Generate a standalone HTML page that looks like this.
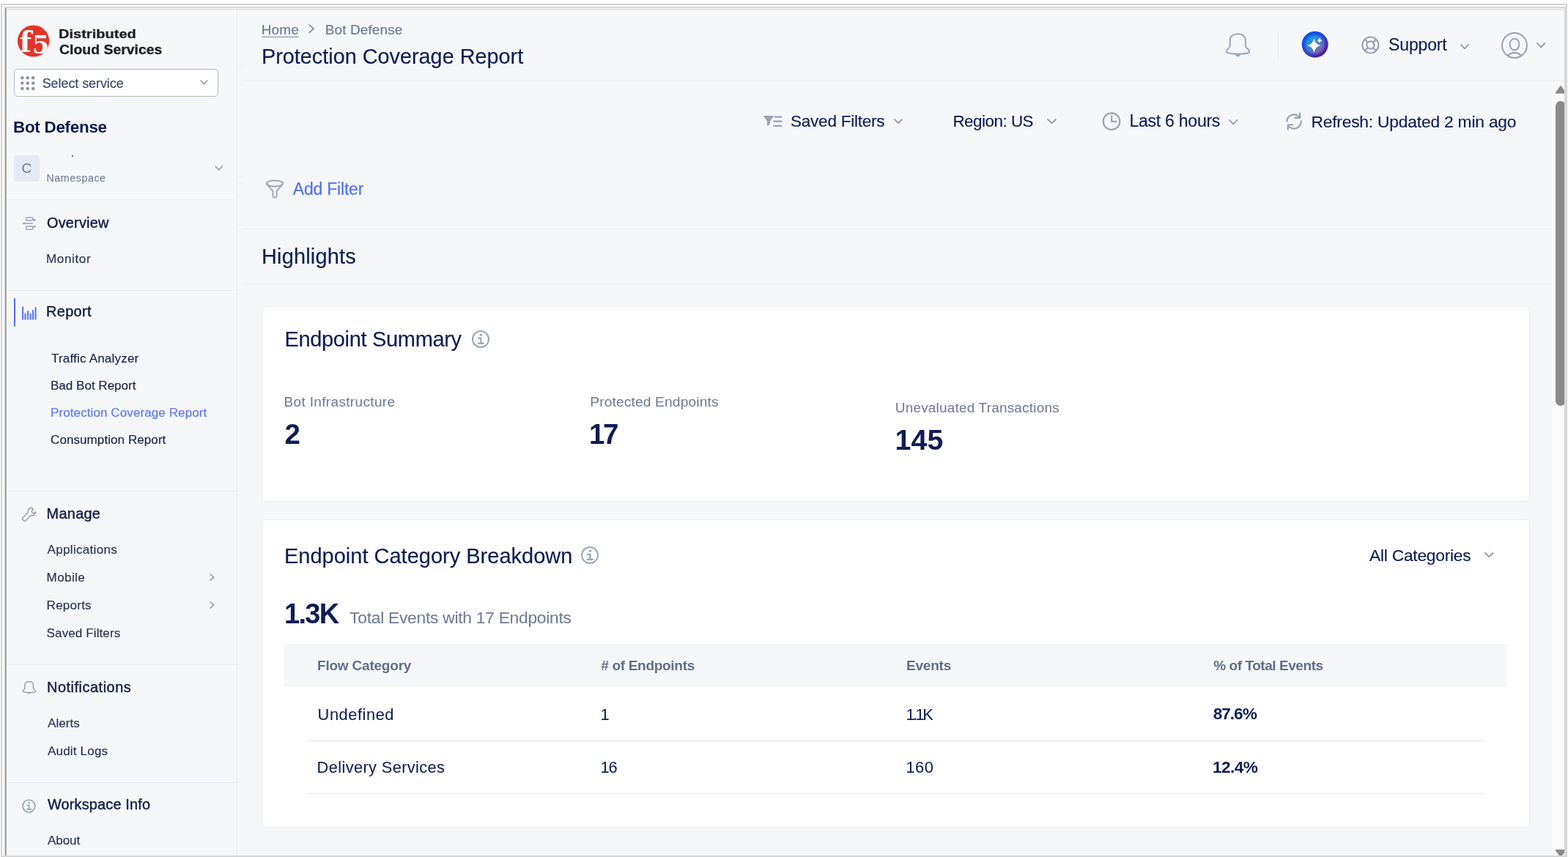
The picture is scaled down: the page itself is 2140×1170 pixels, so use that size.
<!DOCTYPE html>
<html lang="en"><head><meta charset="utf-8"><title>Protection Coverage Report</title>
<style>
html,body{margin:0;padding:0;}
body{width:2140px;height:1170px;overflow:hidden;position:relative;background:#fff;font-family:"Liberation Sans",Arial,sans-serif;}
.a{position:absolute;}
.t{position:absolute;white-space:nowrap;line-height:1;}
svg.a{overflow:visible;}
</style></head><body>
<div class="a" style="left:1px;top:5px;width:2138px;height:1165px;box-sizing:border-box;border:2px solid #d5d5d5;border-bottom:none"></div>
<div class="a" style="left:1px;top:1168px;width:2138px;height:2px;background:#d6d6d6"></div>
<div class="a" style="left:5px;top:9px;width:2132px;height:1159px;box-sizing:border-box;border-left:2px solid #e6e6e6;border-top:2px solid #d7d7d7;border-right:2px solid #d7d7d7"></div>
<div class="a" style="left:7px;top:11px;width:2128px;height:1157px;background:#f6f7f9"></div>
<div class="a" style="left:7px;top:11px;width:2128px;height:1px;background:#f2f2f2"></div>
<div class="a" style="left:7px;top:12px;width:2128px;height:2px;background:#e3e5e3"></div>
<div class="a" style="left:7px;top:11px;width:1px;height:1157px;background:#8f8f8f"></div>
<div class="a" style="left:8px;top:11px;width:1px;height:1157px;background:#b4b4b4"></div>
<div class="a" style="left:9px;top:14px;width:2px;height:1154px;background:#fbfbfb"></div>
<div class="a" style="left:321px;top:14px;width:1px;height:1154px;background:#f9faf9"></div>
<div class="a" style="left:323px;top:14px;width:1px;height:1154px;background:#e7e9f5"></div>
<div class="a" style="left:9px;top:272px;width:314px;height:1px;background:#e8eaf4"></div>
<div class="a" style="left:9px;top:396px;width:314px;height:1px;background:#e8eaf4"></div>
<div class="a" style="left:9px;top:670px;width:314px;height:1px;background:#e8eaf4"></div>
<div class="a" style="left:9px;top:907px;width:314px;height:1px;background:#e8eaf4"></div>
<div class="a" style="left:9px;top:1068px;width:314px;height:1px;background:#e8eaf4"></div>
<div class="a" style="left:332px;top:110px;width:1803px;height:1px;background:#e9ebf2"></div>
<div class="a" style="left:324px;top:89px;width:8px;height:1px;background:#e9ebf2"></div>
<div class="a" style="left:324px;top:249px;width:8px;height:1px;background:#e9ebf2"></div>
<div class="a" style="left:324px;top:307px;width:8px;height:1px;background:#e9ebf2"></div>
<div class="a" style="left:332px;top:312px;width:1787px;height:1px;background:#eceef4"></div>
<div class="a" style="left:332px;top:387px;width:1787px;height:1px;background:#eceef4"></div>
<div class="a" style="left:332px;top:1160px;width:1787px;height:1px;background:#eceef4"></div>
<div class="a" style="left:2118px;top:111px;width:17px;height:1057px;background:#fafafa"></div>
<svg class="a" style="left:2118px;top:111px" width="22" height="22"><path d="M5.6 16 L12 6.8 L18.4 16 Z" fill="#8a8a8a" stroke="#8a8a8a" stroke-width="1.6" stroke-linejoin="round"/></svg>
<div class="a" style="left:2123px;top:138px;width:14px;height:416px;background:#8a8a8a;border-radius:7px"></div>
<svg class="a" style="left:2118px;top:1150px" width="22" height="22"><path d="M5.6 10.6 L18.4 10.6 L12 19.6 Z" fill="#8a8a8a" stroke="#8a8a8a" stroke-width="1.6" stroke-linejoin="round"/></svg>
<div class="a" style="left:2135px;top:9px;width:4px;height:1161px;background:#d7d7d7"></div>
<div class="a" style="left:1px;top:1168px;width:2138px;height:2px;background:#d6d6d6"></div>
<svg class="a" style="left:0;top:0;filter:blur(0.35px)" width="80" height="90"><defs><clipPath id="lc"><circle cx="45.6" cy="56" r="21.6"/></clipPath></defs><circle cx="45.6" cy="56" r="21.6" fill="#e3352b"/><g clip-path="url(#lc)" fill="#fff" font-family="DejaVu Serif, serif" font-weight="700"><text x="26.5" y="70.5" font-size="38.5">f</text><text x="44" y="72.5" font-size="33.6">5</text></g></svg>
<div class="a" style="left:18.5px;top:94.3px;width:279px;height:38px;box-sizing:border-box;border:1.6px solid #b3b9c9;border-radius:5px;background:#fff"></div>
<svg class="a" style="left:28px;top:104.3px" width="21" height="21"><circle cx="2.30" cy="2.30" r="2.25" fill="#8c95aa"/><circle cx="2.30" cy="9.60" r="2.25" fill="#8c95aa"/><circle cx="2.30" cy="16.90" r="2.25" fill="#8c95aa"/><circle cx="9.75" cy="2.30" r="2.25" fill="#8c95aa"/><circle cx="9.75" cy="9.60" r="2.25" fill="#8c95aa"/><circle cx="9.75" cy="16.90" r="2.25" fill="#8c95aa"/><circle cx="17.20" cy="2.30" r="2.25" fill="#8c95aa"/><circle cx="17.20" cy="9.60" r="2.25" fill="#8c95aa"/><circle cx="17.20" cy="16.90" r="2.25" fill="#8c95aa"/></svg>
<svg class="a" style="left:272.4px;top:108.4px" width="12.9" height="8.8"><polyline points="2,2 6.45,6.8 10.9,2" fill="none" stroke="#8d96aa" stroke-width="1.5" stroke-linecap="round" stroke-linejoin="round"/></svg>
<div class="a" style="left:19px;top:212.3px;width:34.5px;height:35.9px;border-radius:4px;background:#e6e9f3"></div>
<div class="a" style="left:19px;top:212.3px;width:34.5px;height:35.9px;line-height:36px;text-align:center;font-size:19px;color:#6f7b93">C</div>
<div class="a" style="left:98px;top:211.5px;width:2px;height:2px;background:#2a3050;border-radius:1px"></div>
<svg class="a" style="left:292.0px;top:225.2px" width="13.3" height="8.9"><polyline points="2,2 6.65,6.9 11.3,2" fill="none" stroke="#8d96aa" stroke-width="1.5" stroke-linecap="round" stroke-linejoin="round"/></svg>
<svg class="a" style="left:29px;top:295px" width="22" height="20" viewBox="0 0 22 20"><rect x="6.6" y="1.9" width="9.3" height="4.2" rx="1" fill="none" stroke="#9aa3b6" stroke-width="1.5"/><rect x="6.6" y="14" width="9.3" height="4.2" rx="1" fill="none" stroke="#9aa3b6" stroke-width="1.5"/><path d="M15.9 5.4 H18" stroke="#9aa3b6" stroke-width="1.5"/><path d="M17.5 3.3 L20.3 5.4 L17.5 7.5Z" fill="#9aa3b6"/><path d="M15.9 14.4 H18" stroke="#9aa3b6" stroke-width="1.5"/><path d="M17.5 12.3 L20.3 14.4 L17.5 16.5Z" fill="#9aa3b6"/><path d="M3 10 H15.9" stroke="#9aa3b6" stroke-width="1.6"/><path d="M4.3 7.9 L1.3 10 L4.3 12.1Z" fill="#9aa3b6"/></svg>
<div class="a" style="left:18.5px;top:407.3px;width:2.2px;height:38.3px;border-radius:1.1px;background:#5070fa"></div>
<svg class="a" style="left:30px;top:417px" width="22" height="22"><rect x="0.05" y="1.30" width="2.1" height="18.40" rx="1" fill="#5b78fa"/><rect x="3.45" y="10.50" width="2.1" height="9.20" rx="1" fill="#5b78fa"/><rect x="7.05" y="7.10" width="2.1" height="12.60" rx="1" fill="#5b78fa"/><rect x="10.55" y="10.50" width="2.1" height="9.20" rx="1" fill="#5b78fa"/><rect x="13.95" y="6.00" width="2.1" height="13.70" rx="1" fill="#5b78fa"/><rect x="17.55" y="2.20" width="2.1" height="17.50" rx="1" fill="#5b78fa"/></svg>
<svg class="a" style="left:28px;top:690px" width="24" height="24" viewBox="0 0 24 24"><path d="M15.2 3.3 a5 5 0 0 0 -4.8 6.4 L2.8 17.3 a1.2 1.2 0 0 0 0 1.7 l2.2 2.2 a1.2 1.2 0 0 0 1.7 0 L14.3 13.6 a5 5 0 0 0 6.4 -4.8 L18.4 11 L15.9 10.3 L15.1 7.8 L17.4 5.6 A5 5 0 0 0 15.2 3.3 Z" fill="none" stroke="#9aa3b6" stroke-width="1.6" stroke-linejoin="round"/></svg>
<svg class="a" style="left:27.80px;top:926.60px" width="23.65" height="24.20" viewBox="0 0 43 44"><path d="M10.7 22.2 V14.3 A10.55 8.1 0 0 1 31.8 14.3 V22.2 C31.8 25.8 37.2 27.6 37.2 30.4 C37.2 32.6 28 33.7 21.4 33.7 C14.8 33.7 5.6 32.6 5.6 30.4 C5.6 27.6 10.7 25.8 10.7 22.2 Z" fill="none" stroke="#9aa3b6" stroke-width="2.8" stroke-linejoin="round"/><path d="M16.8 33.4 Q21.4 41.5 26 33.4 Z" fill="#9aa3b6"/></svg>
<svg class="a" style="left:28.10px;top:1088.60px" width="22.80" height="22.80"><circle cx="11.40" cy="11.40" r="8.40" fill="none" stroke="#9aa3b6" stroke-width="1.7"/><circle cx="11.71" cy="6.97" r="1.34" fill="#9aa3b6"/><path d="M9.11 10.48 H11.71 V15.83 M8.88 15.83 H14.38" fill="none" stroke="#9aa3b6" stroke-width="1.68" stroke-linecap="round" stroke-linejoin="round"/></svg>
<svg class="a" style="left:284.7px;top:781.7px" width="8.8" height="12.2"><polyline points="2,2 6.8,6.1 2,10.2" fill="none" stroke="#8d96aa" stroke-width="1.4" stroke-linecap="round" stroke-linejoin="round"/></svg>
<svg class="a" style="left:284.7px;top:819.7px" width="8.8" height="12.2"><polyline points="2,2 6.8,6.1 2,10.2" fill="none" stroke="#8d96aa" stroke-width="1.4" stroke-linecap="round" stroke-linejoin="round"/></svg>
<div class="a" style="left:357px;top:49.6px;width:51px;height:1.4px;background:#7d8aa2"></div>
<svg class="a" style="left:420.4px;top:32.4px" width="10.3" height="14.4"><polyline points="2,2 8.3,7.2 2,12.4" fill="none" stroke="#7d8aa0" stroke-width="1.6" stroke-linecap="round" stroke-linejoin="round"/></svg>
<svg class="a" style="left:1668.00px;top:40.00px" width="43.00" height="44.00" viewBox="0 0 43 44"><path d="M10.7 22.2 V14.3 A10.55 8.1 0 0 1 31.8 14.3 V22.2 C31.8 25.8 37.2 27.6 37.2 30.4 C37.2 32.6 28 33.7 21.4 33.7 C14.8 33.7 5.6 32.6 5.6 30.4 C5.6 27.6 10.7 25.8 10.7 22.2 Z" fill="none" stroke="#9aa5ba" stroke-width="2.0" stroke-linejoin="round"/><path d="M16.8 33.4 Q21.4 41.5 26 33.4 Z" fill="#9aa5ba"/></svg>
<div class="a" style="left:1744px;top:44px;width:1px;height:36px;background:#e3e6ee"></div>
<svg class="a" style="left:1775.5px;top:41.5px" width="37" height="37" viewBox="0 0 37 37"><defs><linearGradient id="g2" x1="0.15" y1="0.1" x2="0.85" y2="0.95"><stop offset="0" stop-color="#0552f3"/><stop offset="0.5" stop-color="#3146c8"/><stop offset="1" stop-color="#55138a"/></linearGradient><linearGradient id="g3" x1="0.2" y1="0.15" x2="0.85" y2="0.9"><stop offset="0" stop-color="#139ae6"/><stop offset="0.5" stop-color="#4a7ad0"/><stop offset="1" stop-color="#9061b2"/></linearGradient><filter id="fb" x="-20%" y="-20%" width="140%" height="140%"><feGaussianBlur stdDeviation="1.4"/></filter></defs><circle cx="18.7" cy="18.7" r="18" fill="url(#g2)"/><circle cx="18.5" cy="18.9" r="13" fill="url(#g3)" filter="url(#fb)"/><path d="M17.35 10.3 Q18.9 18.5 26.5 20.05 Q18.9 21.6 17.35 29.8 Q15.8 21.6 8.2 20.05 Q15.8 18.5 17.35 10.3 Z" fill="#fff"/><path d="M24.9 9.6 Q25.6 12.5 28.5 13.2 Q25.6 13.9 24.9 16.8 Q24.2 13.9 21.3 13.2 Q24.2 12.5 24.9 9.6 Z" fill="#fff"/></svg>
<svg class="a" style="left:1857px;top:48.2px" width="27" height="27" viewBox="0 0 27 27" fill="none" stroke="#9aa3b6" stroke-width="2.2"><circle cx="13.4" cy="13.5" r="11"/><circle cx="13.4" cy="13.5" r="5.1"/><path d="M9.8 9.9 L5.7 5.8 M17 9.9 L21.1 5.8 M9.8 17.1 L5.7 21.2 M17 17.1 L21.1 21.2"/></svg>
<svg class="a" style="left:1992.3px;top:58.9px" width="14.1" height="9.4"><polyline points="2,2 7.05,7.4 12.1,2" fill="none" stroke="#8d96aa" stroke-width="1.8" stroke-linecap="round" stroke-linejoin="round"/></svg>
<svg class="a" style="left:2048px;top:42.5px" width="38" height="38" viewBox="0 0 38 38"><circle cx="19" cy="19" r="16.9" fill="none" stroke="#9aa3b6" stroke-width="2"/><ellipse cx="19" cy="17.5" rx="6.4" ry="7.8" fill="none" stroke="#9aa3b6" stroke-width="2"/><path d="M9.8 32.6 Q19 25.1 28 32.6" fill="none" stroke="#9aa3b6" stroke-width="2"/></svg>
<svg class="a" style="left:2096.1px;top:57.2px" width="14.4" height="9.5"><polyline points="2,2 7.2,7.5 12.4,2" fill="none" stroke="#8d96aa" stroke-width="1.8" stroke-linecap="round" stroke-linejoin="round"/></svg>
<svg class="a" style="left:1038px;top:152px" width="32" height="26" viewBox="0 0 32 26"><path d="M4.6 6.1 H17.4 Q18.4 6.1 17.7 7 Q14.6 10.6 13.1 13.6 V14.8 Q13 18.3 9.6 19.9 Q9 20.1 9 19.4 V13.6 Q7.2 10.4 4.3 7 Q3.7 6.1 4.6 6.1 Z" fill="#99a2b6"/><path d="M19.7 7.7 H28.4 M18.3 13.7 H28.4 M18.3 19.8 H28.4" stroke="#99a2b6" stroke-width="2.2" stroke-linecap="round"/></svg>
<svg class="a" style="left:1218.9px;top:161.4px" width="14" height="9.2"><polyline points="2,2 7.0,7.2 12,2" fill="none" stroke="#8d96aa" stroke-width="1.8" stroke-linecap="round" stroke-linejoin="round"/></svg>
<svg class="a" style="left:1427.8px;top:161.4px" width="14.9" height="9.2"><polyline points="2,2 7.45,7.2 12.9,2" fill="none" stroke="#8d96aa" stroke-width="1.8" stroke-linecap="round" stroke-linejoin="round"/></svg>
<svg class="a" style="left:1503px;top:152px" width="28" height="28" viewBox="0 0 28 28"><circle cx="14" cy="13.7" r="11.3" fill="none" stroke="#9aa3b6" stroke-width="2.2"/><path d="M14.2 6.6 V13.9 H20.6" fill="none" stroke="#9aa3b6" stroke-width="2.2" stroke-linecap="round" stroke-linejoin="round"/></svg>
<svg class="a" style="left:1676.4px;top:162.3px" width="14.5" height="9.5"><polyline points="2,2 7.25,7.5 12.5,2" fill="none" stroke="#8d96aa" stroke-width="1.8" stroke-linecap="round" stroke-linejoin="round"/></svg>
<svg class="a" style="left:1750px;top:150px" width="32" height="32" viewBox="0 0 32 32" fill="none" stroke="#9aa3b6" stroke-width="2.2" stroke-linecap="round" stroke-linejoin="round"><path d="M6.3 15.8 A9.6 9.6 0 0 1 23.3 9.9"/><path d="M24.1 4.6 V10.9 H17.3"/><path d="M25.6 15.4 A9.6 9.6 0 0 1 9.3 22.8"/><path d="M7.8 26.9 V20.3 H13.9"/></svg>
<svg class="a" style="left:361px;top:244px" width="28" height="28" viewBox="0 0 28 28"><ellipse cx="14" cy="6.5" rx="11.2" ry="4" fill="none" stroke="#9aa3b6" stroke-width="1.8"/><path d="M2.9 7.2 L11.4 16.8 V24 Q11.4 25.5 14 25.5 Q16.6 25.5 16.6 24 V16.8 L25.1 7.2" fill="none" stroke="#9aa3b6" stroke-width="1.8" stroke-linejoin="round"/></svg>
<div class="a" style="left:357px;top:418px;width:1731px;height:267px;box-sizing:border-box;border:1px solid #eaecf2;border-radius:6px;background:#fff"></div>
<div class="a" style="left:357px;top:708.5px;width:1731px;height:421px;box-sizing:border-box;border:1px solid #eaecf2;border-radius:6px;background:#fff"></div>
<svg class="a" style="left:641.80px;top:448.50px" width="28.00" height="28.00"><circle cx="14.00" cy="14.00" r="11.00" fill="none" stroke="#9aa5ba" stroke-width="2.0"/><circle cx="14.40" cy="8.20" r="1.75" fill="#9aa5ba"/><path d="M11.00 12.80 H14.40 V19.80 M10.70 19.80 H17.90" fill="none" stroke="#9aa5ba" stroke-width="2.20" stroke-linecap="round" stroke-linejoin="round"/></svg>
<svg class="a" style="left:790.70px;top:744.20px" width="28.00" height="28.00"><circle cx="14.00" cy="14.00" r="11.00" fill="none" stroke="#9aa5ba" stroke-width="2.0"/><circle cx="14.40" cy="8.20" r="1.75" fill="#9aa5ba"/><path d="M11.00 12.80 H14.40 V19.80 M10.70 19.80 H17.90" fill="none" stroke="#9aa5ba" stroke-width="2.20" stroke-linecap="round" stroke-linejoin="round"/></svg>
<svg class="a" style="left:2025.1px;top:753.3px" width="14.4" height="9.1"><polyline points="2,2 7.2,7.1 12.4,2" fill="none" stroke="#8d96aa" stroke-width="1.8" stroke-linecap="round" stroke-linejoin="round"/></svg>
<div class="a" style="left:388px;top:879px;width:1669px;height:59px;background:#f6f7f9"></div>
<div class="a" style="left:418px;top:1010.5px;width:1609px;height:1.5px;background:#e3e7f0"></div>
<div class="a" style="left:418px;top:1082.5px;width:1609px;height:1.5px;background:#e3e7f0"></div>
<div class="t" id="logo1" style="left:79.80px;top:38.16px;font-size:17.3px;letter-spacing:0.000px;font-weight:700;color:#202126;transform:scaleX(1.1599);transform-origin:0 0;-webkit-text-stroke:0.3px #202126;filter:blur(0.3px);">Distributed</div>
<div class="t" id="logo2" style="left:80.90px;top:60.40px;font-size:17.6px;letter-spacing:0.000px;font-weight:700;color:#202126;transform:scaleX(1.1041);transform-origin:0 0;-webkit-text-stroke:0.3px #202126;filter:blur(0.3px);">Cloud Services</div>
<div class="t" id="selsvc" style="left:57.70px;top:104.76px;font-size:18.0px;letter-spacing:-0.077px;font-weight:400;color:#3b4660;-webkit-text-stroke:0.15px #3b4660;">Select service</div>
<div class="t" id="botdef" style="left:18.00px;top:162.74px;font-size:22.4px;letter-spacing:-0.260px;font-weight:700;color:#0c1850;">Bot Defense</div>
<div class="t" id="ns" style="left:63.50px;top:236.18px;font-size:14.2px;letter-spacing:0.600px;font-weight:400;color:#717b93;-webkit-text-stroke:0.05px #717b93;">Namespace</div>
<div class="t" id="ov" style="left:64.00px;top:294.65px;font-size:19.9px;letter-spacing:0.200px;font-weight:400;color:#161f45;-webkit-text-stroke:0.45px #161f45;">Overview</div>
<div class="t" id="mon" style="left:63.00px;top:344.92px;font-size:17.1px;letter-spacing:0.600px;font-weight:400;color:#2a3352;-webkit-text-stroke:0.15px #2a3352;">Monitor</div>
<div class="t" id="rep" style="left:63.00px;top:415.95px;font-size:19.9px;letter-spacing:0.360px;font-weight:400;color:#161f45;-webkit-text-stroke:0.45px #161f45;">Report</div>
<div class="t" id="ta" style="left:70.00px;top:480.92px;font-size:17.1px;letter-spacing:0.160px;font-weight:400;color:#1b2446;-webkit-text-stroke:0.15px #1b2446;">Traffic Analyzer</div>
<div class="t" id="bbr" style="left:69.00px;top:518.32px;font-size:17.1px;letter-spacing:-0.031px;font-weight:400;color:#1b2446;-webkit-text-stroke:0.15px #1b2446;">Bad Bot Report</div>
<div class="t" id="pcr" style="left:69.00px;top:554.52px;font-size:17.1px;letter-spacing:0.056px;font-weight:400;color:#5b78f6;-webkit-text-stroke:0.15px #5b78f6;">Protection Coverage Report</div>
<div class="t" id="cr" style="left:69.00px;top:591.72px;font-size:17.1px;letter-spacing:0.035px;font-weight:400;color:#1b2446;-webkit-text-stroke:0.15px #1b2446;">Consumption Report</div>
<div class="t" id="man" style="left:63.60px;top:692.05px;font-size:19.9px;letter-spacing:0.280px;font-weight:400;color:#161f45;-webkit-text-stroke:0.45px #161f45;">Manage</div>
<div class="t" id="app" style="left:64.60px;top:742.22px;font-size:17.1px;letter-spacing:0.273px;font-weight:400;color:#2a3352;-webkit-text-stroke:0.15px #2a3352;">Applications</div>
<div class="t" id="mob" style="left:63.60px;top:780.12px;font-size:17.1px;letter-spacing:0.360px;font-weight:400;color:#2a3352;-webkit-text-stroke:0.15px #2a3352;">Mobile</div>
<div class="t" id="reps" style="left:63.60px;top:818.12px;font-size:17.1px;letter-spacing:0.200px;font-weight:400;color:#2a3352;-webkit-text-stroke:0.15px #2a3352;">Reports</div>
<div class="t" id="sf" style="left:63.60px;top:856.12px;font-size:17.1px;letter-spacing:0.075px;font-weight:400;color:#2a3352;-webkit-text-stroke:0.15px #2a3352;">Saved Filters</div>
<div class="t" id="not" style="left:64.00px;top:928.85px;font-size:19.9px;letter-spacing:0.533px;font-weight:400;color:#161f45;-webkit-text-stroke:0.45px #161f45;">Notifications</div>
<div class="t" id="al" style="left:65.00px;top:979.42px;font-size:17.1px;letter-spacing:0.000px;font-weight:400;color:#2a3352;-webkit-text-stroke:0.15px #2a3352;">Alerts</div>
<div class="t" id="aud" style="left:65.00px;top:1017.22px;font-size:17.1px;letter-spacing:0.144px;font-weight:400;color:#2a3352;-webkit-text-stroke:0.15px #2a3352;">Audit Logs</div>
<div class="t" id="wi" style="left:65.00px;top:1089.15px;font-size:19.9px;letter-spacing:0.169px;font-weight:400;color:#161f45;-webkit-text-stroke:0.45px #161f45;">Workspace Info</div>
<div class="t" id="ab" style="left:65.00px;top:1138.72px;font-size:17.1px;letter-spacing:-0.125px;font-weight:400;color:#2a3352;-webkit-text-stroke:0.15px #2a3352;">About</div>
<div class="t" id="home" style="left:356.70px;top:31.32px;font-size:19.0px;letter-spacing:0.133px;font-weight:400;color:#6b7a93;-webkit-text-stroke:0.15px #6b7a93;">Home</div>
<div class="t" id="bc2" style="left:443.80px;top:31.32px;font-size:19.0px;letter-spacing:0.100px;font-weight:400;color:#6b7a93;-webkit-text-stroke:0.15px #6b7a93;">Bot Defense</div>
<div class="t" id="title" style="left:357.00px;top:63.22px;font-size:28.8px;letter-spacing:0.008px;font-weight:400;color:#0f1c55;-webkit-text-stroke:0.15px #0f1c55;">Protection Coverage Report</div>
<div class="t" id="sup" style="left:1895.10px;top:49.73px;font-size:23.0px;letter-spacing:-0.167px;font-weight:400;color:#0f1c55;-webkit-text-stroke:0.15px #0f1c55;">Support</div>
<div class="t" id="svf" style="left:1079.10px;top:154.95px;font-size:22.5px;letter-spacing:-0.250px;font-weight:400;color:#0f1c55;-webkit-text-stroke:0.15px #0f1c55;">Saved Filters</div>
<div class="t" id="reg" style="left:1300.40px;top:155.04px;font-size:22.4px;letter-spacing:-0.489px;font-weight:400;color:#0f1c55;-webkit-text-stroke:0.15px #0f1c55;">Region: US</div>
<div class="t" id="l6" style="left:1541.40px;top:153.53px;font-size:23.0px;letter-spacing:-0.236px;font-weight:400;color:#0f1c55;-webkit-text-stroke:0.15px #0f1c55;">Last 6 hours</div>
<div class="t" id="ref" style="left:1789.40px;top:155.20px;font-size:22.8px;letter-spacing:-0.200px;font-weight:400;color:#0f1c55;-webkit-text-stroke:0.15px #0f1c55;">Refresh: Updated 2 min ago</div>
<div class="t" id="addf" style="left:399.80px;top:247.23px;font-size:23.0px;letter-spacing:-0.211px;font-weight:400;color:#4f6ef7;-webkit-text-stroke:0.15px #4f6ef7;">Add Filter</div>
<div class="t" id="hl" style="left:357.00px;top:336.25px;font-size:29.0px;letter-spacing:0.156px;font-weight:400;color:#0f1c55;-webkit-text-stroke:0.15px #0f1c55;">Highlights</div>
<div class="t" id="es" style="left:388.40px;top:448.95px;font-size:29.0px;letter-spacing:-0.327px;font-weight:400;color:#0f1c55;-webkit-text-stroke:0.15px #0f1c55;">Endpoint Summary</div>
<div class="t" id="bi" style="left:387.60px;top:538.72px;font-size:19.0px;letter-spacing:0.335px;font-weight:400;color:#717b93;-webkit-text-stroke:0.05px #717b93;">Bot Infrastructure</div>
<div class="t" id="n2" style="left:388.60px;top:574.11px;font-size:38.5px;letter-spacing:0.000px;font-weight:700;color:#0f1c55;">2</div>
<div class="t" id="pe" style="left:805.20px;top:538.75px;font-size:19.2px;letter-spacing:0.144px;font-weight:400;color:#717b93;-webkit-text-stroke:0.05px #717b93;">Protected Endpoints</div>
<div class="t" id="n17" style="left:804.00px;top:574.11px;font-size:38.5px;letter-spacing:-2.300px;font-weight:700;color:#0f1c55;">17</div>
<div class="t" id="ut" style="left:1221.80px;top:548.40px;font-size:18.9px;letter-spacing:0.235px;font-weight:400;color:#717b93;-webkit-text-stroke:0.05px #717b93;">Unevaluated Transactions</div>
<div class="t" id="n145" style="left:1221.60px;top:580.82px;font-size:39.2px;letter-spacing:0.200px;font-weight:700;color:#0f1c55;">145</div>
<div class="t" id="ecb" style="left:388.00px;top:745.35px;font-size:29.0px;letter-spacing:0.000px;font-weight:400;color:#0f1c55;-webkit-text-stroke:0.15px #0f1c55;">Endpoint Category Breakdown</div>
<div class="t" id="allc" style="left:1869.10px;top:746.60px;font-size:22.8px;letter-spacing:-0.262px;font-weight:400;color:#0f1c55;-webkit-text-stroke:0.15px #0f1c55;">All Categories</div>
<div class="t" id="n13k" style="left:388.00px;top:818.73px;font-size:38.0px;letter-spacing:-1.667px;font-weight:700;color:#0f1c55;">1.3K</div>
<div class="t" id="tev" style="left:477.10px;top:831.60px;font-size:22.8px;letter-spacing:-0.262px;font-weight:400;color:#717b93;-webkit-text-stroke:0.05px #717b93;">Total Events with 17 Endpoints</div>
<div class="t" id="th1" style="left:433.00px;top:898.62px;font-size:19.0px;letter-spacing:-0.208px;font-weight:700;color:#616e88;">Flow Category</div>
<div class="t" id="th2" style="left:820.20px;top:898.62px;font-size:19.0px;letter-spacing:-0.300px;font-weight:700;color:#616e88;"># of Endpoints</div>
<div class="t" id="th3" style="left:1237.10px;top:898.62px;font-size:19.0px;letter-spacing:-0.240px;font-weight:700;color:#616e88;">Events</div>
<div class="t" id="th4" style="left:1656.20px;top:898.62px;font-size:19.0px;letter-spacing:-0.438px;font-weight:700;color:#616e88;">% of Total Events</div>
<div class="t" id="r1c1" style="left:433.60px;top:965.25px;font-size:21.8px;letter-spacing:0.562px;font-weight:400;color:#0f1c55;-webkit-text-stroke:0.05px #0f1c55;">Undefined</div>
<div class="t" id="r1c2" style="left:819.60px;top:964.95px;font-size:21.8px;letter-spacing:0.000px;font-weight:400;color:#0f1c55;-webkit-text-stroke:0.05px #0f1c55;">1</div>
<div class="t" id="r1c3" style="left:1236.40px;top:964.95px;font-size:21.8px;letter-spacing:-2.500px;font-weight:400;color:#0f1c55;-webkit-text-stroke:0.05px #0f1c55;">1.1K</div>
<div class="t" id="r1c4" style="left:1655.70px;top:964.07px;font-size:22.6px;letter-spacing:-1.000px;font-weight:700;color:#0f1c55;">87.6%</div>
<div class="t" id="r2c1" style="left:432.60px;top:1036.65px;font-size:21.8px;letter-spacing:0.375px;font-weight:400;color:#0f1c55;-webkit-text-stroke:0.05px #0f1c55;">Delivery Services</div>
<div class="t" id="r2c2" style="left:819.60px;top:1036.55px;font-size:21.8px;letter-spacing:-1.200px;font-weight:400;color:#0f1c55;-webkit-text-stroke:0.05px #0f1c55;">16</div>
<div class="t" id="r2c3" style="left:1236.40px;top:1036.55px;font-size:21.8px;letter-spacing:0.600px;font-weight:400;color:#0f1c55;-webkit-text-stroke:0.05px #0f1c55;">160</div>
<div class="t" id="r2c4" style="left:1655.10px;top:1036.77px;font-size:22.6px;letter-spacing:-0.600px;font-weight:700;color:#0f1c55;">12.4%</div>
</body></html>
